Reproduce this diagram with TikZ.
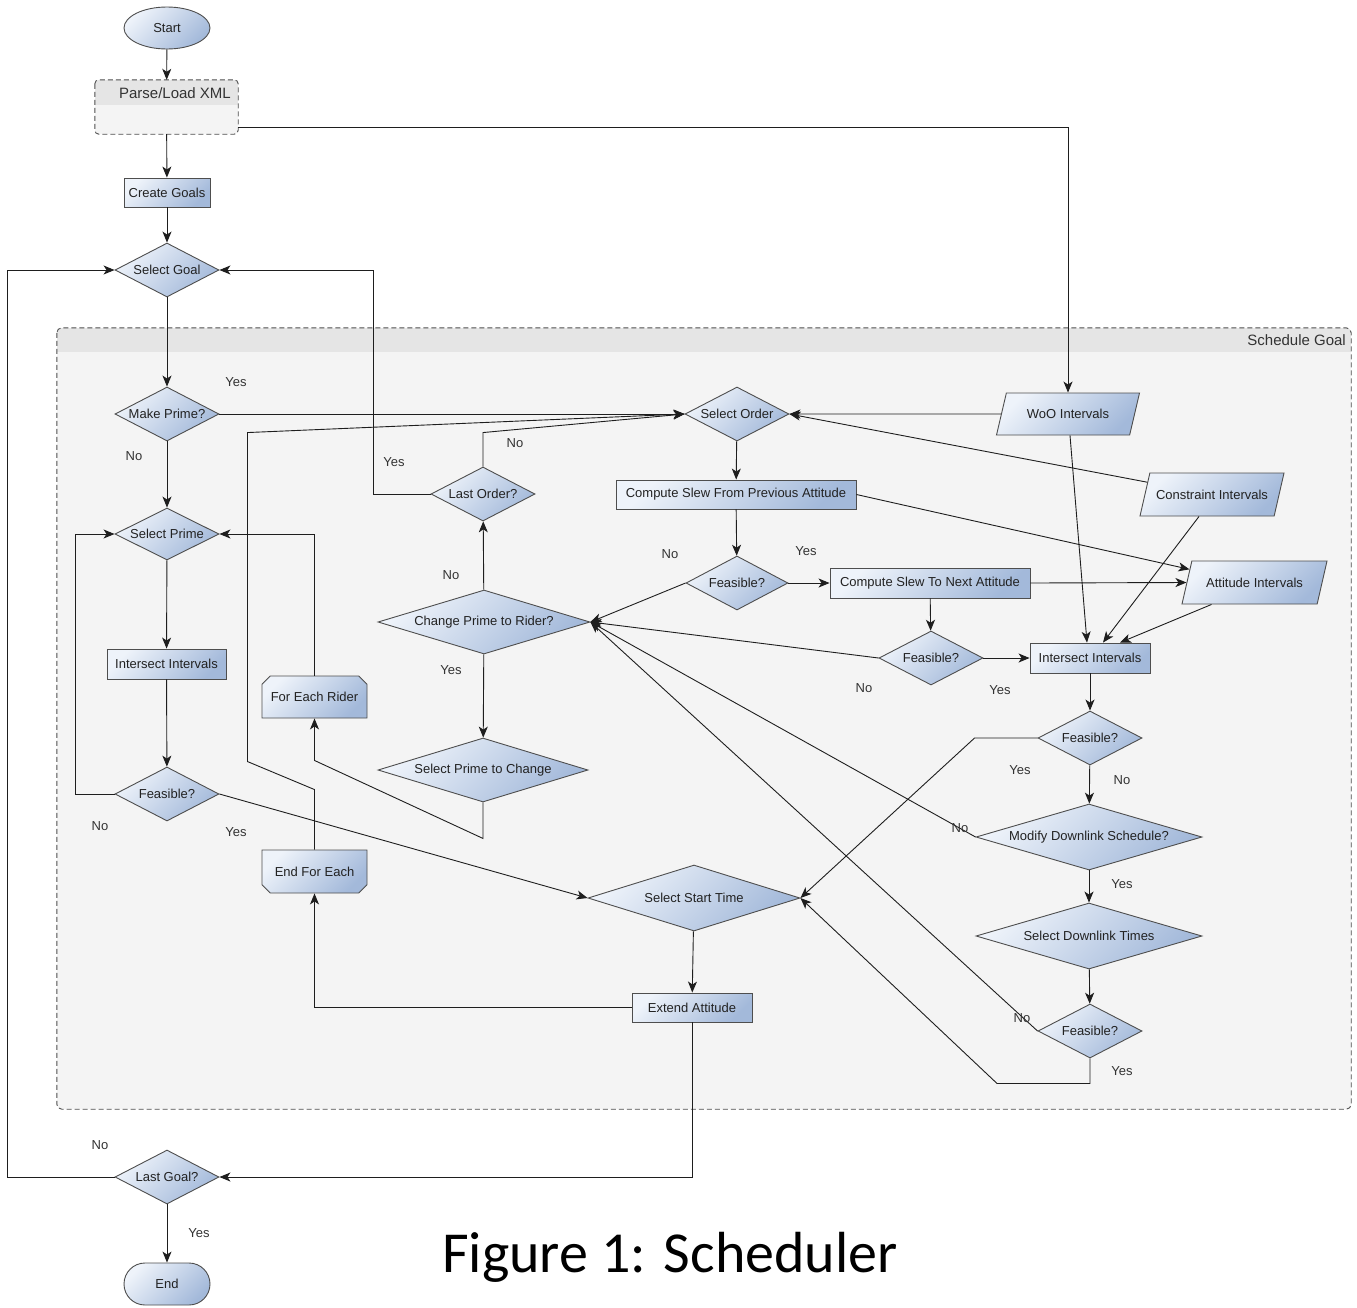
\documentclass[tikz,border=0pt]{standalone}
\usepackage{fontspec}
\setmainfont{Liberation Sans}
\newfontfamily\capfont{Carlito}
\usetikzlibrary{shapes.geometric,shapes.misc,arrows.meta,calc}
\definecolor{gl}{HTML}{EEF3FA}
\definecolor{gd}{HTML}{A3B9DA}
\definecolor{bd}{HTML}{4E4E4E}
\definecolor{ln}{HTML}{1E1E1E}
\definecolor{tx}{HTML}{222222}
\definecolor{lb}{HTML}{333333}
\definecolor{cont}{HTML}{F4F4F4}
\definecolor{head}{HTML}{E5E5E5}
\begin{document}
\begin{tikzpicture}[x=1pt,y=-1pt,
  gradfill/.style={top color=gl, bottom color=gd, shading angle=45},
  base/.style={draw=bd, line width=0.9pt, gradfill, text=tx, font=\fontsize{13}{15}\selectfont, inner sep=0pt},
  dia/.style={base, diamond, aspect=2},
  bigdia/.style={base, diamond, aspect=3.4},
  box/.style={base, rectangle},
  para/.style={base, trapezium, trapezium left angle=76, trapezium right angle=104, trapezium stretches body, inner xsep=0pt, inner ysep=15pt},
  chamtop/.style={base, chamfered rectangle, chamfered rectangle corners={north west,north east}, chamfered rectangle xsep=8pt},
  chambot/.style={base, chamfered rectangle, chamfered rectangle corners={south west,south east}, chamfered rectangle xsep=8pt},
  conn/.style={draw=ln, line width=0.9pt, -{Stealth[length=11pt,width=9pt,inset=3pt]}},
  lbl/.style={font=\fontsize{13}{15}\selectfont, text=lb, inner sep=0pt},
  grp/.style={draw=bd, dashed, dash pattern=on 5pt off 3pt, line width=0.9pt, rounded corners=5pt}
]
\useasboundingbox[fill=white] (0,0) rectangle (1357,1307);

% ---------- group: Schedule Goal ----------
\node[fill=cont, rounded corners=5pt, minimum width=1294pt, minimum height=781pt, inner sep=0pt] (sched) at (704,718.5) {};
\begin{scope}
  \clip[rounded corners=5pt] (sched.north west) rectangle (sched.south east);
  \fill[head] (sched.north west) rectangle ([yshift=-24pt]sched.north east);
\end{scope}
\draw[grp] (sched.north west) rectangle (sched.south east);
\node[lbl, font=\fontsize{15}{17}\selectfont, anchor=east] (schedlbl) at (1346,340) {Schedule Goal};

% ---------- Parse/Load XML ----------
\node[fill=cont, rounded corners=4pt, minimum width=143pt, minimum height=54pt, inner sep=0pt] (parse) at (166.5,107) {};
\begin{scope}
  \clip[rounded corners=4pt] (parse.north west) rectangle (parse.south east);
  \fill[head] (parse.north west) rectangle ([yshift=-25pt]parse.north east);
\end{scope}
\draw[grp, rounded corners=4pt] (parse.north west) rectangle (parse.south east);
\node[lbl, font=\fontsize{15}{17}\selectfont, anchor=east] (parselbl) at (231,93) {Parse/Load XML};

% ---------- nodes ----------
\node[base, ellipse, minimum width=86pt, minimum height=42pt] (start) at (167,28) {Start};
\node[box, minimum width=86pt, minimum height=29pt] (create) at (167,192.5) {Create Goals};
\node[dia, minimum width=104pt, minimum height=54pt] (sg) at (167,270) {Select Goal};
\node[dia, minimum width=104pt, minimum height=54pt] (mp) at (167,414) {Make Prime?};
\node[dia, minimum width=104pt, minimum height=52pt] (sp) at (167,534) {Select Prime};
\node[box, minimum width=119pt, minimum height=30pt] (ii0) at (166.5,664) {Intersect Intervals};
\node[dia, minimum width=104pt, minimum height=54pt] (f0) at (167,794) {Feasible?};
\node[chamtop, minimum width=105pt, minimum height=42pt] (fer) at (314.5,697) {For Each Rider};
\node[chambot, minimum width=105pt, minimum height=43pt] (efe) at (314.5,871.5) {End For Each};
\node[dia, minimum width=104pt, minimum height=54pt] (so) at (737,414) {Select Order};
\node[dia, minimum width=104pt, minimum height=54pt] (lo) at (483,494) {Last Order?};
\node[box, minimum width=240pt, minimum height=29pt] (csp) at (736,494.5) {Compute Slew From Previous Attitude};
\node[dia, minimum width=102pt, minimum height=54pt] (f1) at (737,583) {Feasible?};
\node[bigdia, minimum width=212pt, minimum height=64pt] (cp) at (484,622) {Change Prime to Rider?};
\node[bigdia, minimum width=210pt, minimum height=64pt] (spc) at (483,770) {Select Prime to Change};
\node[box, minimum width=200pt, minimum height=30pt] (cst) at (930,583) {Compute Slew To Next Attitude};
\node[dia, minimum width=104pt, minimum height=54pt] (f2) at (931,658) {Feasible?};
\node[box, minimum width=120pt, minimum height=30pt] (ii1) at (1090,658) {Intersect Intervals};
\node[para, minimum width=143pt, minimum height=42pt] (woo) at (1068,414) {WoO Intervals};
\node[para, minimum width=144pt, minimum height=43pt] (con) at (1212,494.5) {Constraint Intervals};
\node[para, minimum width=145pt, minimum height=43pt] (att) at (1254.5,582.5) {Attitude Intervals};
\node[dia, minimum width=104pt, minimum height=54pt] (f3) at (1090,738) {Feasible?};
\node[bigdia, minimum width=226pt, minimum height=66pt] (md) at (1089,837) {Modify Downlink Schedule?};
\node[bigdia, minimum width=226pt, minimum height=66pt] (sdt) at (1089,936) {Select Downlink Times};
\node[dia, minimum width=104pt, minimum height=54pt] (f4) at (1090,1031) {Feasible?};
\node[bigdia, minimum width=212pt, minimum height=66pt] (sst) at (694,898) {Select Start Time};
\node[box, minimum width=120pt, minimum height=29pt] (ea) at (692,1007.5) {Extend Attitude};
\node[dia, minimum width=104pt, minimum height=54pt] (lg) at (167,1177) {Last Goal?};
\node[base, rounded rectangle, minimum width=86pt, minimum height=42pt] (end) at (167,1284) {End};

% ---------- connectors ----------
\draw[conn] (start) -- (parse);
\draw[conn] (parse) -- (create);
\draw[conn] ([yshift=-20pt]parse.east) -| (woo.north);
\draw[conn] (create) -- (sg);
\draw[conn] (sg) -- (mp);
\draw[conn] (mp.east) -- (so.west);
\draw[conn] (mp) -- (sp);
\draw[conn] (sp) -- (ii0);
\draw[conn] (ii0) -- (f0);
\draw[conn] (f0.west) -- ++(-39,0) |- (sp.west);
\draw[conn] (f0.east) -- (sst.west);
\draw[conn] (sst) -- (ea);
\draw[conn] (ea.west) -| (efe.south);
\draw[conn] (efe.north) -- ++(0,-60) -- ++(-67,-28) -- ++(0,-329) -- (so.west);
\draw[conn] (lo.north) -- ++(0,-34) -- (so.west);
\draw[conn] (lo.west) -- ++(-57,0) |- (sg.east);
\draw[conn] (cp) -- (lo);
\draw[conn] (cp) -- (spc);
\draw[conn] (spc.south) -- ++(0,36) -- ([yshift=-42pt]fer.south) -- (fer.south);
\draw[conn] (fer.north) |- (sp.east);
\draw[conn] (so) -- (csp);
\draw[conn] (csp) -- (f1);
\draw[conn] (csp.east) -- ($(att.top left corner)!0.2!(att.bottom left corner)$);
\draw[conn] (f1.east) -- (cst.west);
\draw[conn] (f1.west) -- (cp.east);
\draw[conn] (cst.east) -- (att.west);
\draw[conn] (cst) -- (f2);
\draw[conn] (f2.east) -- (ii1.west);
\draw[conn] (f2.west) -- (cp.east);
\draw[conn] (woo.west) -- (so.east);
\draw[conn] ($(con.top left corner)!0.22!(con.bottom left corner)$) -- (so.east);
\draw[conn] ([xshift=2pt]woo.south) -- ([xshift=-3pt]ii1.north);
\draw[conn] ([xshift=-13pt]con.south) -- ([xshift=13pt]ii1.north);
\draw[conn] ([xshift=-43pt]att.south) -- ([xshift=30pt]ii1.north);
\draw[conn] (ii1) -- (f3);
\draw[conn] (f3) -- (md);
\draw[conn] (f3.west) -- ++(-63,0) -- (sst.east);
\draw[conn] (md.west) -- (cp.east);
\draw[conn] (md) -- (sdt);
\draw[conn] (sdt) -- (f4);
\draw[conn] (f4.west) -- (cp.east);
\draw[conn] (f4.south) -- ++(0,25) -- ++(-93,0) -- (sst.east);
\draw[conn] (ea.south) |- (lg.east);
\draw[conn] (lg.west) -- ++(-107,0) |- (sg.west);
\draw[conn] (lg) -- (end);

% ---------- labels ----------
\node[lbl] (l1) at (236,382) {Yes};
\node[lbl] (l2) at (134,456) {No};
\node[lbl] (l3) at (100,826) {No};
\node[lbl] (l4) at (236,832) {Yes};
\node[lbl] (l5) at (394,462) {Yes};
\node[lbl] (l6) at (515,443) {No};
\node[lbl] (l7) at (451,575) {No};
\node[lbl] (l8) at (451,670) {Yes};
\node[lbl] (l9) at (670,554) {No};
\node[lbl] (l10) at (806,551) {Yes};
\node[lbl] (l11) at (864,688) {No};
\node[lbl] (l12) at (1000,690) {Yes};
\node[lbl] (l13) at (1020,770) {Yes};
\node[lbl] (l14) at (1122,780) {No};
\node[lbl] (l15) at (960,828) {No};
\node[lbl] (l16) at (1122,884) {Yes};
\node[lbl] (l17) at (1022,1018) {No};
\node[lbl] (l18) at (1122,1071) {Yes};
\node[lbl] (l19) at (100,1145) {No};
\node[lbl] (l20) at (199,1233) {Yes};

% ---------- caption ----------
\node[font=\capfont\fontsize{58}{62}\selectfont, text=black, inner sep=0pt] (cap) at (670,1257) {Figure 1: Scheduler};
\end{tikzpicture}
\end{document}
